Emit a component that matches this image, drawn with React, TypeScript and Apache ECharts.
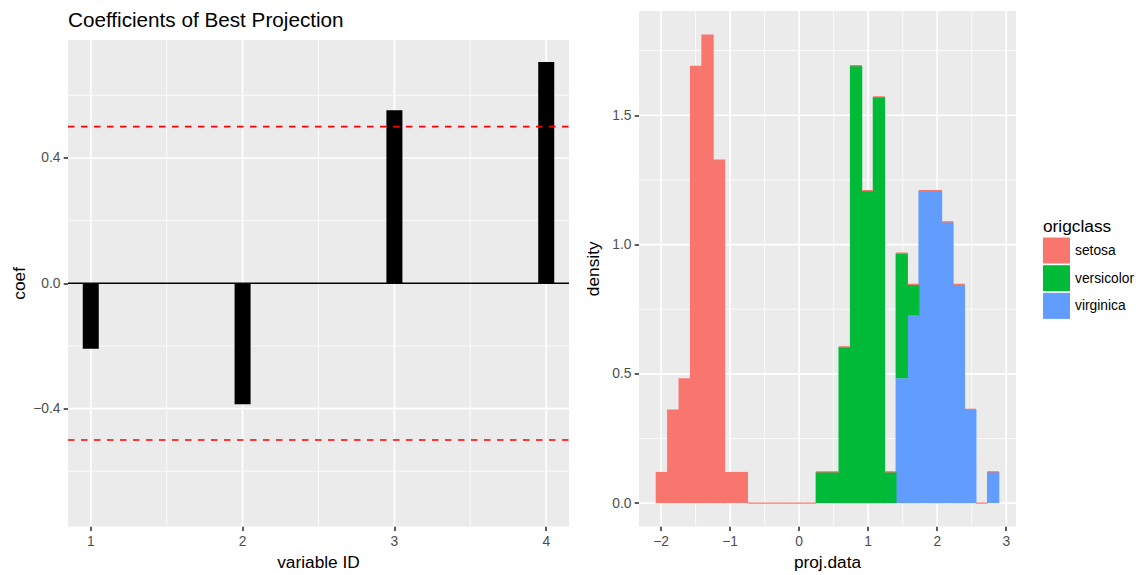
import React, { useEffect, useRef } from 'react';
import * as echarts from 'echarts';

// ---------- Left panel data ----------
const variableIds = [1, 2, 3, 4];
const coefValues = [-0.209, -0.386, 0.552, 0.706];
const thresholdLines = [0.5, -0.5];
const zeroLine = [0];
const leftXTicks = [1, 2, 3, 4];
const leftXMinor = [1.5, 2.5, 3.5];
const leftYTicks = [-0.4, 0, 0.4];
const leftYMinor = [-0.6, -0.2, 0.2, 0.6];

// ---------- Right panel data ----------
const classNames = ['setosa', 'versicolor', 'virginica'];
const classColors = ['#F8766D', '#00BA38', '#619CFF'];
const binStart = -2.072;
const binWidth = 0.1655;
const classSize = 50;
const setosaCounts = [1, 3, 4, 14, 15, 11, 1, 1, 0, 0, 0, 0, 0, 0, 0, 0, 0, 0, 0, 0, 0, 0, 0, 0, 0, 0, 0, 0, 0, 0];
const versicolorCounts = [0, 0, 0, 0, 0, 0, 0, 0, 0, 0, 0, 0, 0, 0, 1, 1, 5, 14, 10, 13, 1, 4, 1, 0, 0, 0, 0, 0, 0, 0];
const virginicaCounts = [0, 0, 0, 0, 0, 0, 0, 0, 0, 0, 0, 0, 0, 0, 0, 0, 0, 0, 0, 0, 0, 4, 6, 10, 10, 9, 7, 3, 0, 1];
const rightXTicks = [-2, -1, 0, 1, 2, 3];
const rightXMinor = [-1.5, -0.5, 0.5, 1.5, 2.5];
const rightYTicks = [0, 0.5, 1, 1.5];
const rightYMinor = [0.25, 0.75, 1.25, 1.75];

const FONT = '"Liberation Sans", Arial, Helvetica, sans-serif';
const PANEL_BG = '#EBEBEB';
const fmtNum = (v: number, d: number) => {
  const s = Math.abs(v).toFixed(d);
  return v < -1e-9 ? '\u2212' + s : s;
};

export default function App() {
  const ref = useRef<HTMLDivElement>(null);

  useEffect(() => {
    document.body.style.margin = '0';
    if (!ref.current) return;
    const chart = echarts.init(ref.current, undefined, { renderer: 'svg' });

    // left axis ranges (symmetric around 0, 10% beyond max |coef|)
    const maxAbs = Math.max(...coefValues.map(Math.abs));
    const leftYMax = maxAbs * 1.1;
    const idSpan = variableIds[variableIds.length - 1] - variableIds[0];
    const leftXMin = variableIds[0] - 0.05 * idSpan;
    const leftXMax = variableIds[variableIds.length - 1] + 0.05 * idSpan;

    // histogram stacking (density per class)
    const dens = 1 / (classSize * binWidth);
    const nb = setosaCounts.length;
    const virg: number[][] = [];
    const vers: number[][] = [];
    const seto: number[][] = [];
    let maxTop = 0;
    for (let i = 0; i < nb; i++) {
      const x0 = binStart + i * binWidth;
      const x1 = x0 + binWidth;
      const a = virginicaCounts[i] * dens;
      const b = versicolorCounts[i] * dens;
      const c = setosaCounts[i] * dens;
      virg.push([x0, x1, 0, a]);
      vers.push([x0, x1, a, a + b]);
      seto.push([x0, x1, a + b, a + b + c]);
      maxTop = Math.max(maxTop, a + b + c);
    }
    const histMin = binStart;
    const histMax = binStart + nb * binWidth;
    const rxPad = 0.05 * (histMax - histMin);
    const rightXMin = histMin - rxPad;
    const rightXMax = histMax + rxPad;
    const ryPad = 0.05 * maxTop;
    const rightYMin = -ryPad;
    const rightYMax = maxTop + ryPad;

    const gridLineData = (xMaj: number[], xMin: number[], yMaj: number[], yMin: number[]) => [
      ...xMin.map((v) => [v, 0, 0]),
      ...yMin.map((v) => [v, 1, 0]),
      ...xMaj.map((v) => [v, 0, 1]),
      ...yMaj.map((v) => [v, 1, 1]),
    ];

    const gridRender = (xRef: number, yRef: number) => (params: any, api: any) => {
      const cs = params.coordSys;
      const v = api.value(0);
      const orient = api.value(1);
      const major = api.value(2);
      const lw = major ? 1.6 : 0.8;
      if (orient === 0) {
        const p = api.coord([v, yRef]);
        return { type: 'line', shape: { x1: p[0], y1: cs.y, x2: p[0], y2: cs.y + cs.height }, style: { stroke: '#FFFFFF', lineWidth: lw } };
      }
      const p = api.coord([xRef, v]);
      return { type: 'line', shape: { x1: cs.x, y1: p[1], x2: cs.x + cs.width, y2: p[1] }, style: { stroke: '#FFFFFF', lineWidth: lw } };
    };

    const hlineRender = (color: string, dash: number[] | null) => (params: any, api: any) => {
      const cs = params.coordSys;
      const p = api.coord([variableIds[0], api.value(0)]);
      return {
        type: 'line',
        shape: { x1: cs.x, y1: p[1], x2: cs.x + cs.width, y2: p[1] },
        style: { stroke: color, lineWidth: 1.6, lineDash: dash || undefined },
      };
    };

    const histRender = (color: string, minLine: boolean) => (params: any, api: any) => {
      const p0 = api.coord([api.value(0), api.value(2)]);
      const p1 = api.coord([api.value(1), api.value(3)]);
      const x0 = p0[0];
      const w = p1[0] - p0[0];
      let y = p1[1];
      let h = p0[1] - p1[1];
      if (h < 0.5) {
        if (!minLine) return null;
        y = p0[1] - 0.7;
        h = 1.3;
        return { type: 'rect', shape: { x: x0, y, width: w, height: h }, style: { fill: color } };
      }
      // slight horizontal overlap to avoid anti-aliasing seams between adjacent bins
      return {
        type: 'rect',
        shape: { x: x0 - 0.45, y, width: w + 0.9, height: h },
        style: { fill: color },
      };
    };

    const axisLabelStyle = { color: '#4D4D4D', fontSize: 13.8, fontFamily: FONT, margin: 7.5 };
    const axisTickStyle = { show: true, length: 4.3, lineStyle: { color: '#333333', width: 1.6 } };
    const nameStyle = { color: '#000000', fontSize: 17.3, fontFamily: FONT };

    const option: any = {
      animation: false,
      backgroundColor: '#FFFFFF',
      color: classColors,
      title: [
        {
          text: 'Coefficients of Best Projection',
          left: 68,
          top: 7,
          padding: 0,
          textStyle: { fontSize: 20.7, fontWeight: 'normal', color: '#000000', fontFamily: FONT, lineHeight: 24 },
        },
        {
          text: 'origclass',
          left: 1043,
          top: 216,
          padding: 0,
          textStyle: { fontSize: 17.3, fontWeight: 'normal', color: '#000000', fontFamily: FONT, lineHeight: 20 },
        },
      ],
      legend: {
        data: classNames,
        orient: 'vertical',
        left: 1043,
        top: 237.5,
        padding: 0,
        itemWidth: 27,
        itemHeight: 26,
        itemGap: 1.7,
        icon: 'rect',
        selectedMode: false,
        textStyle: { color: '#000000', fontSize: 13.8, fontFamily: FONT },
      },
      grid: [
        { left: 68, top: 40, width: 501, height: 490, show: true, backgroundColor: PANEL_BG, borderWidth: 0, containLabel: false },
        { left: 639, top: 11, width: 377, height: 516, show: true, backgroundColor: PANEL_BG, borderWidth: 0, containLabel: false },
      ],
      xAxis: [
        {
          type: 'value', gridIndex: 0, min: leftXMin, max: leftXMax,
          axisLine: { show: false, onZero: false },
          axisTick: { ...axisTickStyle, customValues: leftXTicks },
          axisLabel: { ...axisLabelStyle, customValues: leftXTicks, formatter: (v: number) => fmtNum(v, 0) },
          splitLine: { show: false },
          name: 'variable ID', nameLocation: 'middle', nameGap: 26, nameTextStyle: nameStyle,
        },
        {
          type: 'value', gridIndex: 1, min: rightXMin, max: rightXMax,
          axisLine: { show: false, onZero: false },
          axisTick: { ...axisTickStyle, customValues: rightXTicks },
          axisLabel: { ...axisLabelStyle, customValues: rightXTicks, formatter: (v: number) => fmtNum(v, 0) },
          splitLine: { show: false },
          name: 'proj.data', nameLocation: 'middle', nameGap: 26, nameTextStyle: nameStyle,
        },
      ],
      yAxis: [
        {
          type: 'value', gridIndex: 0, min: -leftYMax, max: leftYMax,
          axisLine: { show: false, onZero: false },
          axisTick: { ...axisTickStyle, customValues: leftYTicks },
          axisLabel: { ...axisLabelStyle, customValues: leftYTicks, formatter: (v: number) => fmtNum(v, 1) },
          splitLine: { show: false },
          name: 'coef', nameLocation: 'middle', nameGap: 41, nameRotate: 90, nameTextStyle: nameStyle,
        },
        {
          type: 'value', gridIndex: 1, min: rightYMin, max: rightYMax,
          axisLine: { show: false, onZero: false },
          axisTick: { ...axisTickStyle, customValues: rightYTicks },
          axisLabel: { ...axisLabelStyle, customValues: rightYTicks, formatter: (v: number) => fmtNum(v, 1) },
          splitLine: { show: false },
          name: 'density', nameLocation: 'middle', nameGap: 38, nameRotate: 90, nameTextStyle: nameStyle,
        },
      ],
      series: [
        {
          type: 'custom', name: 'gridL', xAxisIndex: 0, yAxisIndex: 0, z: 1, silent: true,
          renderItem: gridRender(variableIds[0], 0),
          data: gridLineData(leftXTicks, leftXMinor, leftYTicks, leftYMinor),
        },
        {
          type: 'custom', name: 'gridR', xAxisIndex: 1, yAxisIndex: 1, z: 1, silent: true,
          renderItem: gridRender(0, 0),
          data: gridLineData(rightXTicks, rightXMinor, rightYTicks, rightYMinor),
        },
        {
          type: 'custom', name: 'coef', xAxisIndex: 0, yAxisIndex: 0, z: 3, silent: true,
          renderItem: (params: any, api: any) => {
            const x = api.value(0);
            const v = api.value(1);
            const p0 = api.coord([x, 0]);
            const p1 = api.coord([x, v]);
            const w = 16;
            return {
              type: 'rect',
              shape: { x: p0[0] - w / 2, y: Math.min(p0[1], p1[1]), width: w, height: Math.abs(p1[1] - p0[1]) },
              style: { fill: '#000000' },
            };
          },
          data: variableIds.map((id, i) => [id, coefValues[i]]),
        },
        {
          type: 'custom', name: 'zero', xAxisIndex: 0, yAxisIndex: 0, z: 4, silent: true,
          renderItem: hlineRender('#000000', null),
          data: zeroLine.map((v) => [v]),
        },
        {
          type: 'custom', name: 'threshold', xAxisIndex: 0, yAxisIndex: 0, z: 5, silent: true,
          renderItem: hlineRender('#FF0000', [6.5, 6.5]),
          data: thresholdLines.map((v) => [v]),
        },
        {
          type: 'custom', name: 'virginica', xAxisIndex: 1, yAxisIndex: 1, z: 3, silent: true,
          itemStyle: { color: classColors[2] },
          renderItem: histRender(classColors[2], false),
          data: virg,
        },
        {
          type: 'custom', name: 'versicolor', xAxisIndex: 1, yAxisIndex: 1, z: 3, silent: true,
          itemStyle: { color: classColors[1] },
          renderItem: histRender(classColors[1], false),
          data: vers,
        },
        {
          type: 'custom', name: 'setosa', xAxisIndex: 1, yAxisIndex: 1, z: 4, silent: true,
          itemStyle: { color: classColors[0] },
          renderItem: histRender(classColors[0], true),
          data: seto,
        },
      ],
    };

    chart.setOption(option);
    return () => chart.dispose();
  }, []);

  return <div ref={ref} style={{ width: 1142, height: 575 }} />;
}
